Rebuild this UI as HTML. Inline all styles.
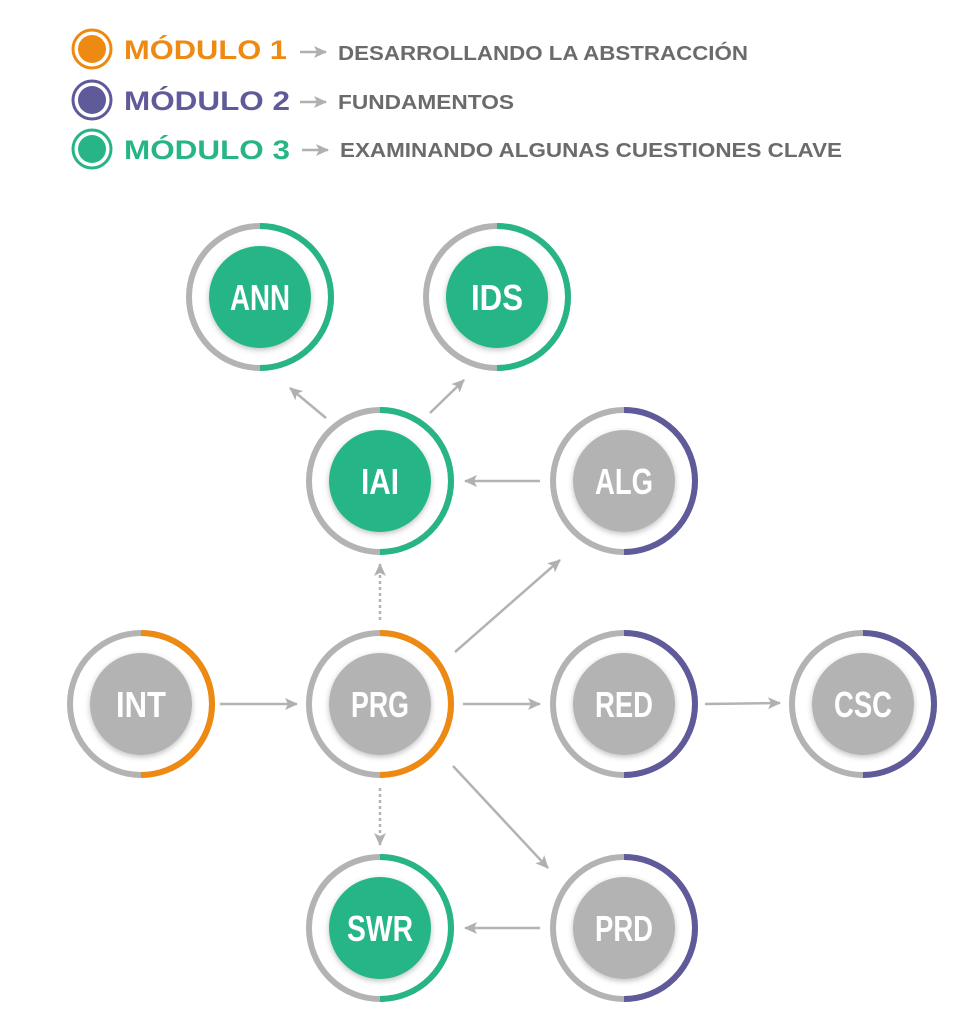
<!DOCTYPE html>
<html><head><meta charset="utf-8"><style>
html,body{margin:0;padding:0;background:#fff;}
svg{display:block;}
.lab{font-family:"Liberation Sans Narrow","Liberation Sans",sans-serif;font-weight:bold;font-size:36px;fill:#fff;}
.mod{font-family:"Liberation Sans",sans-serif;font-weight:bold;font-size:27px;}
.desc{font-family:"Liberation Sans",sans-serif;font-weight:bold;font-size:20px;fill:#6b6b6b;}
.r{fill:none;stroke:#b3b3b3;stroke-width:6;}
.a{fill:none;stroke-width:6;}
</style></head><body>
<svg width="979" height="1024" viewBox="0 0 979 1024" xmlns="http://www.w3.org/2000/svg">
<defs>
<marker id="ah" markerWidth="14" markerHeight="12" refX="12" refY="6" orient="auto" markerUnits="userSpaceOnUse">
<path d="M0,0 L13,6 L0,12 L3,6 Z" fill="#b0b0b0"/></marker>
<filter id="sh" x="-30%" y="-30%" width="160%" height="160%"><feDropShadow dx="0" dy="2" stdDeviation="3" flood-color="#000" flood-opacity="0.25"/></filter>
<g id="ng"><circle cx="0" cy="0" r="51" fill="#b3b3b3" filter="url(#sh)"/></g>
<g id="ngr"><circle cx="0" cy="0" r="51" fill="#27B587" filter="url(#sh)"/></g>
</defs>
<!-- legend -->
<circle cx="92" cy="49" r="19" fill="none" stroke="#EE8A12" stroke-width="3"/><circle cx="92" cy="49" r="14" fill="#EE8A12"/>
<text x="124" y="59" class="mod" fill="#EE8A12" textLength="163" lengthAdjust="spacingAndGlyphs">MÓDULO 1</text>
<circle cx="92" cy="100" r="19" fill="none" stroke="#5F5A9A" stroke-width="3"/><circle cx="92" cy="100" r="14" fill="#5F5A9A"/>
<text x="124" y="110" class="mod" fill="#5F5A9A" textLength="166" lengthAdjust="spacingAndGlyphs">MÓDULO 2</text>
<circle cx="92" cy="149" r="19" fill="none" stroke="#27B587" stroke-width="3"/><circle cx="92" cy="149" r="14" fill="#27B587"/>
<text x="124" y="159" class="mod" fill="#27B587" textLength="166" lengthAdjust="spacingAndGlyphs">MÓDULO 3</text>
<g stroke="#b0b0b0" stroke-width="2.5" fill="none">
<line x1="300" y1="52" x2="326" y2="52" marker-end="url(#ah)"/>
<line x1="300" y1="102" x2="326" y2="102" marker-end="url(#ah)"/>
<line x1="302" y1="150" x2="328" y2="150" marker-end="url(#ah)"/>
</g>
<text x="338" y="60" class="desc" textLength="410" lengthAdjust="spacingAndGlyphs">DESARROLLANDO LA ABSTRACCIÓN</text>
<text x="338" y="109" class="desc" textLength="176" lengthAdjust="spacingAndGlyphs">FUNDAMENTOS</text>
<text x="340" y="157" class="desc" textLength="502" lengthAdjust="spacingAndGlyphs">EXAMINANDO ALGUNAS CUESTIONES CLAVE</text>
<!-- connectors -->
<g stroke="#b3b3b3" stroke-width="2.5" fill="none">
<line x1="220" y1="704" x2="297" y2="704" marker-end="url(#ah)"/>
<line x1="463" y1="704" x2="540" y2="704" marker-end="url(#ah)"/>
<line x1="705" y1="704" x2="780" y2="703" marker-end="url(#ah)"/>
<line x1="540" y1="481" x2="465" y2="481" marker-end="url(#ah)"/>
<line x1="540" y1="928" x2="465" y2="928" marker-end="url(#ah)"/>
<line x1="455" y1="652" x2="560" y2="560" marker-end="url(#ah)"/>
<line x1="453" y1="766" x2="548" y2="868" marker-end="url(#ah)"/>
<line x1="326" y1="418" x2="290" y2="388" marker-end="url(#ah)"/>
<line x1="430" y1="413" x2="464" y2="380" marker-end="url(#ah)"/>
<line x1="380" y1="620" x2="380" y2="564" stroke-dasharray="3,3" marker-end="url(#ah)"/>
<line x1="380" y1="788" x2="380" y2="845" stroke-dasharray="3,3" marker-end="url(#ah)"/>
</g>
<!-- nodes -->
<g transform="translate(260,297)"><circle class="r" r="71"/><path class="a" stroke="#27B587" d="M0,-71 A71,71 0 0 1 0,71"/><use href="#ngr"/><text x="-30" y="13" class="lab" textLength="60" lengthAdjust="spacingAndGlyphs">ANN</text></g>
<g transform="translate(497,297)"><circle class="r" r="71"/><path class="a" stroke="#27B587" d="M0,-71 A71,71 0 0 1 0,71"/><use href="#ngr"/><text x="-26" y="13" class="lab" textLength="52" lengthAdjust="spacingAndGlyphs">IDS</text></g>
<g transform="translate(380,481)"><circle class="r" r="71"/><path class="a" stroke="#27B587" d="M0,-71 A71,71 0 0 1 0,71"/><use href="#ngr"/><text x="-19" y="13" class="lab" textLength="38" lengthAdjust="spacingAndGlyphs">IAI</text></g>
<g transform="translate(624,481)"><circle class="r" r="71"/><path class="a" stroke="#5F5A9A" d="M0,-71 A71,71 0 0 1 0,71"/><use href="#ng"/><text x="-29" y="13" class="lab" textLength="58" lengthAdjust="spacingAndGlyphs">ALG</text></g>
<g transform="translate(141,704)"><circle class="r" r="71"/><path class="a" stroke="#EE8A12" d="M0,-71 A71,71 0 0 1 0,71"/><use href="#ng"/><text x="-25" y="13" class="lab" textLength="50" lengthAdjust="spacingAndGlyphs">INT</text></g>
<g transform="translate(380,704)"><circle class="r" r="71"/><path class="a" stroke="#EE8A12" d="M0,-71 A71,71 0 0 1 0,71"/><use href="#ng"/><text x="-29" y="13" class="lab" textLength="58" lengthAdjust="spacingAndGlyphs">PRG</text></g>
<g transform="translate(624,704)"><circle class="r" r="71"/><path class="a" stroke="#5F5A9A" d="M0,-71 A71,71 0 0 1 0,71"/><use href="#ng"/><text x="-29" y="13" class="lab" textLength="58" lengthAdjust="spacingAndGlyphs">RED</text></g>
<g transform="translate(863,704)"><circle class="r" r="71"/><path class="a" stroke="#5F5A9A" d="M0,-71 A71,71 0 0 1 0,71"/><use href="#ng"/><text x="-29" y="13" class="lab" textLength="58" lengthAdjust="spacingAndGlyphs">CSC</text></g>
<g transform="translate(380,928)"><circle class="r" r="71"/><path class="a" stroke="#27B587" d="M0,-71 A71,71 0 0 1 0,71"/><use href="#ngr"/><text x="-33" y="13" class="lab" textLength="66" lengthAdjust="spacingAndGlyphs">SWR</text></g>
<g transform="translate(624,928)"><circle class="r" r="71"/><path class="a" stroke="#5F5A9A" d="M0,-71 A71,71 0 0 1 0,71"/><use href="#ng"/><text x="-29" y="13" class="lab" textLength="58" lengthAdjust="spacingAndGlyphs">PRD</text></g>
</svg>
</body></html>
